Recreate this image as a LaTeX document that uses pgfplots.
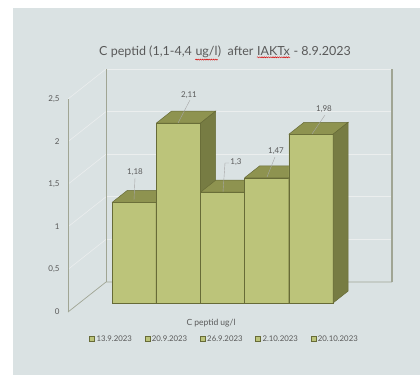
\documentclass[border=0pt]{standalone}
\usepackage{pgfplots}
\pgfplotsset{compat=1.18}
\usepackage{fontspec}
\setmainfont{Lato}
\usetikzlibrary{calc,backgrounds,decorations.pathmorphing}
\definecolor{bg}{HTML}{DAE2E3}
\definecolor{gridw}{HTML}{EBEEEE}
\definecolor{wallg}{HTML}{A0A594}
\definecolor{barfront}{HTML}{BCC47A}
\definecolor{bartop}{HTML}{8E9350}
\definecolor{barside}{HTML}{777C43}
\definecolor{baredge}{HTML}{676B37}
\definecolor{txt}{HTML}{595959}
\newcommand\squig[1]{\tikz[baseline=(w.base)]{\node[inner sep=0pt, text=txt](w){#1};
  \draw[red!85!black, line width=0.45pt, decorate, decoration={snake, amplitude=0.55pt, segment length=2.2pt}]
  ([yshift=-1.8pt]w.south west) -- ([yshift=-1.8pt]w.south east);}}
\begin{document}
\begin{tikzpicture}
% ---------- 3D oblique axis: walls and bars ----------
\begin{axis}[
  x={(1pt,0pt)}, y={(38pt,30pt)}, z={(0pt,85.2pt)},
  xmin=0, xmax=286, ymin=0, ymax=1, zmin=0, zmax=2.5,
  hide axis, clip=false,
]
\coordinate (O) at (axis cs:0,0,0);
% left wall grid
\foreach \zz in {0.5,1,1.5,2,2.5}{
  \edef\tmp{\noexpand\addplot3[draw=gridw, line width=0.6pt] coordinates {(0,0,\zz) (0,1,\zz)};}\tmp
}
% back wall grid
\foreach \zz in {0.5,1,1.5,2,2.5}{
  \edef\tmp{\noexpand\addplot3[draw=gridw, line width=0.6pt] coordinates {(0,1,\zz) (286,1,\zz)};}\tmp
}
% wall edges
\addplot3[draw=wallg, line width=0.7pt] coordinates {(0,0,0) (0,1,0) (286,1,0)};
\addplot3[draw=wallg, line width=0.7pt] coordinates {(0,1,0) (0,1,2.5)};
\addplot3[draw=wallg, line width=1.4pt] coordinates {(286,1,0) (286,1,2.5)};
% ---------- bars (values 1.18, 2.11, 1.30, 1.47, 1.98) ----------
% bar 1 : 13.9.2023
\addplot3[fill=barfront, draw=baredge, line width=0.5pt] coordinates {(32.6,0.3,0) (76.8,0.3,0) (76.8,0.3,1.18) (32.6,0.3,1.18) (32.6,0.3,0)};
\addplot3[fill=bartop, draw=baredge, line width=0.5pt] coordinates {(32.6,0.3,1.18) (76.8,0.3,1.18) (76.8,0.7,1.18) (32.6,0.7,1.18) (32.6,0.3,1.18)};
\addplot3[fill=barside, draw=baredge, line width=0.5pt] coordinates {(76.8,0.3,0) (76.8,0.7,0) (76.8,0.7,1.18) (76.8,0.3,1.18) (76.8,0.3,0)};
% bar 2 : 20.9.2023
\addplot3[fill=barfront, draw=baredge, line width=0.5pt] coordinates {(76.8,0.3,0) (121.0,0.3,0) (121.0,0.3,2.11) (76.8,0.3,2.11) (76.8,0.3,0)};
\addplot3[fill=bartop, draw=baredge, line width=0.5pt] coordinates {(76.8,0.3,2.11) (121.0,0.3,2.11) (121.0,0.7,2.11) (76.8,0.7,2.11) (76.8,0.3,2.11)};
\addplot3[fill=barside, draw=baredge, line width=0.5pt] coordinates {(121.0,0.3,0) (121.0,0.7,0) (121.0,0.7,2.11) (121.0,0.3,2.11) (121.0,0.3,0)};
% bar 3 : 26.9.2023
\addplot3[fill=barfront, draw=baredge, line width=0.5pt] coordinates {(121.0,0.3,0) (165.2,0.3,0) (165.2,0.3,1.30) (121.0,0.3,1.30) (121.0,0.3,0)};
\addplot3[fill=bartop, draw=baredge, line width=0.5pt] coordinates {(121.0,0.3,1.30) (165.2,0.3,1.30) (165.2,0.7,1.30) (121.0,0.7,1.30) (121.0,0.3,1.30)};
\addplot3[fill=barside, draw=baredge, line width=0.5pt] coordinates {(165.2,0.3,0) (165.2,0.7,0) (165.2,0.7,1.30) (165.2,0.3,1.30) (165.2,0.3,0)};
% bar 4 : 2.10.2023
\addplot3[fill=barfront, draw=baredge, line width=0.5pt] coordinates {(165.2,0.3,0) (209.4,0.3,0) (209.4,0.3,1.47) (165.2,0.3,1.47) (165.2,0.3,0)};
\addplot3[fill=bartop, draw=baredge, line width=0.5pt] coordinates {(165.2,0.3,1.47) (209.4,0.3,1.47) (209.4,0.7,1.47) (165.2,0.7,1.47) (165.2,0.3,1.47)};
\addplot3[fill=barside, draw=baredge, line width=0.5pt] coordinates {(209.4,0.3,0) (209.4,0.7,0) (209.4,0.7,1.47) (209.4,0.3,1.47) (209.4,0.3,0)};
% bar 5 : 20.10.2023
\addplot3[fill=barfront, draw=baredge, line width=0.5pt] coordinates {(209.4,0.3,0) (253.6,0.3,0) (253.6,0.3,1.98) (209.4,0.3,1.98) (209.4,0.3,0)};
\addplot3[fill=bartop, draw=baredge, line width=0.5pt] coordinates {(209.4,0.3,1.98) (253.6,0.3,1.98) (253.6,0.7,1.98) (209.4,0.7,1.98) (209.4,0.3,1.98)};
\addplot3[fill=barside, draw=baredge, line width=0.5pt] coordinates {(253.6,0.3,0) (253.6,0.7,0) (253.6,0.7,1.98) (253.6,0.3,1.98) (253.6,0.3,0)};
% ---------- value labels with leader lines ----------
\draw[gray!70, line width=0.4pt] (axis cs:66,0,1.315) -- (axis cs:67,0,1.573);
\draw[gray!70, line width=0.4pt] (axis cs:110,0,2.218) -- (axis cs:122,0,2.488);
\draw[gray!70, line width=0.4pt] (axis cs:155,0,1.408) -- (axis cs:157,0,1.749) -- (axis cs:161,0,1.749);
\draw[gray!70, line width=0.4pt] (axis cs:199,0,1.585) -- (axis cs:207,0,1.819);
\draw[gray!70, line width=0.4pt] (axis cs:244,0,2.089) -- (axis cs:257,0,2.312);
\begin{scope}[every node/.style={font=\fontsize{8}{9}\selectfont, text=txt, inner sep=0pt}]
\node at (axis cs:67,0,1.643) {1,18};
\node at (axis cs:121,0,2.547) {2,11};
\node at (axis cs:168,0,1.761) {1,3};
\node at (axis cs:208,0,1.890) {1,47};
\node at (axis cs:256,0,2.383) {1,98};
\end{scope}
\end{axis}
% ---------- 2D axis: value axis, ticks and legend ----------
\begin{axis}[
  at={(O)}, anchor=south west,
  x=1pt, xmin=0, xmax=354, y=85.2pt, ymin=0, ymax=2.5,
  axis x line=none, axis y line*=left,
  axis line style={draw=wallg, line width=0.7pt},
  ytick={0,0.5,1,1.5,2,2.5}, major tick length=0pt,
  yticklabel style={font=\fontsize{8}{9}\selectfont, text=txt, xshift=-5pt},
  /pgf/number format/use comma,
  /pgf/number format/assume math mode=true,
  legend columns=5,
  legend style={at={(axis description cs:0.442,-0.127)}, anchor=center,
    draw=none, fill=none, font=\fontsize{7.8}{9}\selectfont, text=txt,
    /tikz/every even column/.append style={column sep=11pt},
    /tikz/every odd column/.append style={column sep=0pt},
    nodes={inner xsep=1.8pt}},
  legend image code/.code={\draw[#1] (0pt,-2.5pt) rectangle (5pt,2.5pt);},
]
\addlegendimage{fill=barfront, draw=baredge, line width=0.4pt}
\addlegendentry{13.9.2023}
\addlegendimage{fill=barfront, draw=baredge, line width=0.4pt}
\addlegendentry{20.9.2023}
\addlegendimage{fill=barfront, draw=baredge, line width=0.4pt}
\addlegendentry{26.9.2023}
\addlegendimage{fill=barfront, draw=baredge, line width=0.4pt}
\addlegendentry{2.10.2023}
\addlegendimage{fill=barfront, draw=baredge, line width=0.4pt}
\addlegendentry{20.10.2023}
\end{axis}
% ---------- frame, title, axis label ----------
\coordinate (SW) at ($(O)-(68pt,63pt)$);
\begin{scope}[on background layer]
\fill[white] (SW) rectangle ++(420pt,375pt);
\fill[bg] ($(SW)+(13pt,0pt)$) rectangle ++(407pt,367pt);
\end{scope}
\node[font=\fontsize{12.5}{14}\selectfont, text=txt] (T) at ($(SW)+(225pt,322pt)$) {C peptid (1,1-4,4 \squig{ug/l})\ \ after \squig{IAKTx} - 8.9.2023};
\node[font=\fontsize{8.5}{10}\selectfont, text=txt] at ($(SW)+(211pt,52pt)$) {C peptid ug/l};
\pgfresetboundingbox
\path[use as bounding box] (SW) rectangle ++(420pt,375pt);
\end{tikzpicture}
\end{document}
